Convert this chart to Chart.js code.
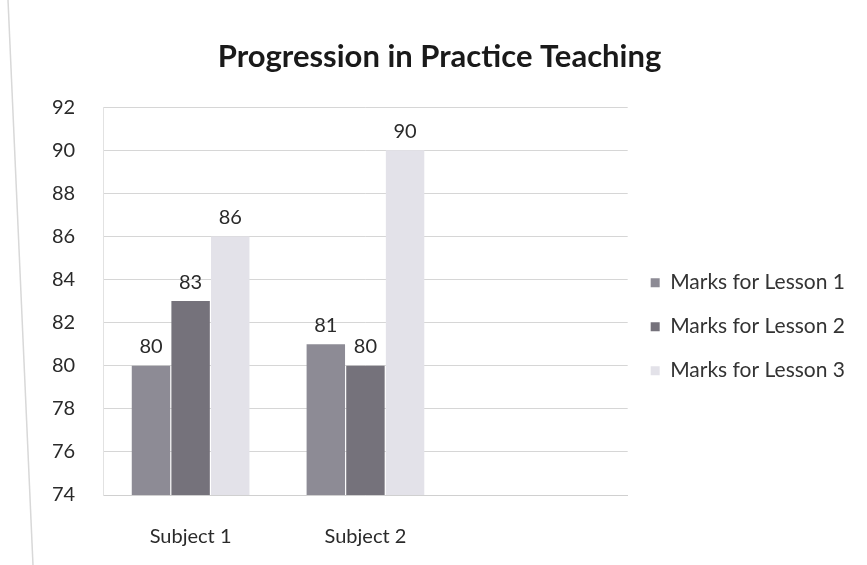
<!DOCTYPE html>
<html lang="en">
  <head>
    <meta charset="UTF-8">
    <title>Progression in Practice Teaching</title>
    <script src="https://cdn.jsdelivr.net/npm/chart.js@4.4.7/dist/chart.umd.min.js"></script>
    <style>
    html, body {
      margin: 0;
      padding: 0;
      background: #ffffff;
    }
    #wrap {
      width: 867px;
      height: 565px;
    }
    </style>
  </head>
  <body>
    <div id="wrap"><canvas id="marksChart" width="867" height="565"></canvas></div>
    <script>
    // data
    const subjects = ['Subject 1', 'Subject 2', ''];
    const lesson1 = [80, 81, null];
    const lesson2 = [83, 80, null];
    const lesson3 = [86, 90, null];
    const seriesNames = ['Marks for Lesson 1', 'Marks for Lesson 2', 'Marks for Lesson 3'];

    const fontFamily = 'Lato, "Open Sans", sans-serif';

    // value labels above the bars
    const valueLabels = {
      id: 'valueLabels',
      afterDatasetsDraw(chart) {
        const ctx = chart.ctx;
        ctx.save();
        ctx.font = '20px ' + fontFamily;
        ctx.fillStyle = '#2a2a2a';
        ctx.textAlign = 'center';
        ctx.textBaseline = 'bottom';
        chart.data.datasets.forEach((ds, i) => {
          chart.getDatasetMeta(i).data.forEach((bar, j) => {
            if (ds.data[j] == null) return;
            ctx.fillText(ds.data[j], bar.x, bar.y - 9);
          });
        });
        ctx.restore();
      }
    };

    // faint edge of the scanned page
    const pageEdge = {
      id: 'pageEdge',
      beforeDraw(chart) {
        const ctx = chart.ctx;
        ctx.save();
        ctx.strokeStyle = '#d8d8d8';
        ctx.lineWidth = 1.5;
        ctx.beginPath();
        ctx.moveTo(8, 0);
        ctx.lineTo(33, chart.height);
        ctx.stroke();
        ctx.restore();
      }
    };

    const ctx = document.getElementById('marksChart').getContext('2d');
    const marksChart = new Chart(ctx, {
      type: 'bar',
      data: {
        labels: subjects,
        datasets: [
          {
            label: seriesNames[0],
            data: lesson1,
            backgroundColor: '#8d8b95'
          },
          {
            label: seriesNames[1],
            data: lesson2,
            backgroundColor: '#75727b'
          },
          {
            label: seriesNames[2],
            data: lesson3,
            backgroundColor: '#e3e2e9'
          }
        ]
      },
      options: {
        responsive: false,
        animation: false,
        categoryPercentage: 0.68,
        barPercentage: 0.97,
        layout: {
          padding: { left: 24, right: 12, top: 34, bottom: -6 }
        },
        plugins: {
          title: {
            display: true,
            text: 'Progression in Practice Teaching',
            color: '#1a1a1a',
            font: { family: fontFamily, size: 31, weight: 'bold' },
            padding: { top: 4, bottom: 32 }
          },
          legend: {
            position: 'right',
            maxWidth: 250,
            title: {
              display: true,
              text: ' ',
              font: { size: 12 },
              padding: { top: 20, bottom: 14 }
            },
            labels: {
              color: '#333333',
              font: { family: fontFamily, size: 21 },
              boxWidth: 9,
              boxHeight: 9,
              padding: 23
            }
          },
          tooltip: { enabled: false }
        },
        scales: {
          x: {
            grid: { display: false },
            border: { display: true, color: '#d0d0d0' },
            ticks: {
              color: '#2a2a2a',
              font: { family: fontFamily, size: 20 },
              padding: 22,
              maxRotation: 0,
              autoSkip: false
            }
          },
          y: {
            min: 74,
            max: 92,
            ticks: {
              stepSize: 2,
              color: '#2a2a2a',
              font: { family: fontFamily, size: 20 },
              padding: 28
            },
            grid: { color: '#d6d6d6', drawTicks: false },
            border: { display: true, color: '#e2e2e2' }
          }
        }
      },
      plugins: [valueLabels, pageEdge]
    });
    </script>
  </body>
</html>
